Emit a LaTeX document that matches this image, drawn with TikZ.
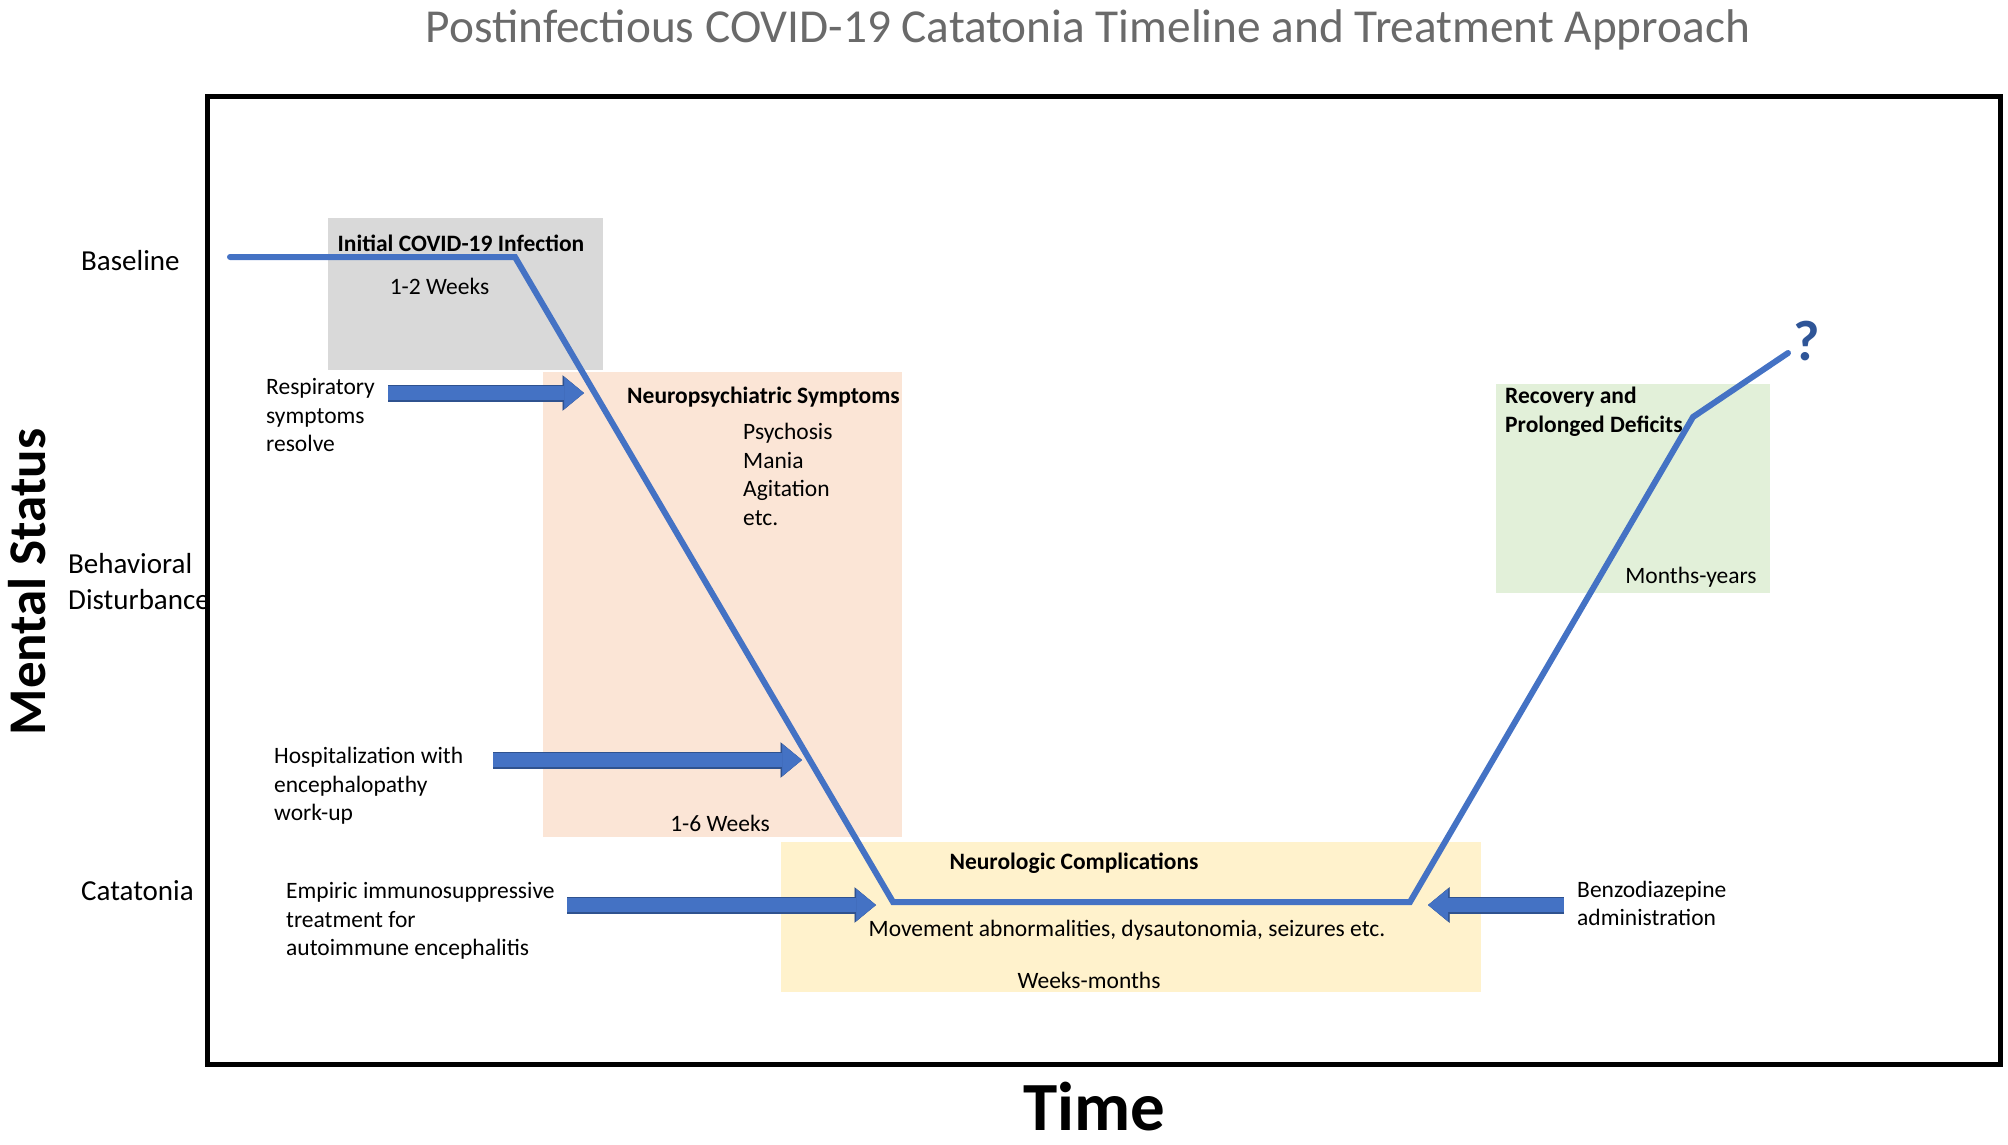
\documentclass[tikz,border=0pt]{standalone}
\usepackage{fontspec}
\setmainfont{Carlito}
\usetikzlibrary{arrows.meta}
\definecolor{lineblue}{HTML}{4472C4}
\definecolor{arrowblue}{HTML}{4472C4}
\definecolor{arrowdark}{HTML}{2F528F}
\definecolor{qblue}{HTML}{2F5597}
\definecolor{titlegray}{HTML}{6A6A6A}
\definecolor{boxgray}{HTML}{D9D9D9}
\definecolor{boxpeach}{HTML}{FBE5D6}
\definecolor{boxyellow}{HTML}{FFF2CC}
\definecolor{boxgreen}{HTML}{E2F0D9}
\tikzset{
  body/.style={font=\fontsize{23.5bp}{28.5bp}\selectfont, inner sep=0pt, align=left},
  bodyb/.style={font=\fontsize{23.5bp}{28.5bp}\selectfont\bfseries, inner sep=0pt, align=left},
  axislab/.style={font=\fontsize{29bp}{36bp}\selectfont, inner sep=0pt, align=left, anchor=west},
  bigaxis/.style={font=\fontsize{#1}{#1}\selectfont\bfseries, inner sep=0pt},
  barrow/.style={draw=arrowblue, line width=14.5bp,
    -{Triangle[width=32bp,length=20bp,line width=0.5bp]},
    preaction={draw=arrowdark, line width=17bp,
      -{Triangle[width=35.5bp,length=21.5bp,line width=0.5bp]}}},
  curve/.style={draw=lineblue, line width=6bp, line cap=round},
  frame/.style={draw=black, line width=5bp},
}
\begin{document}
\begin{tikzpicture}[x=1bp,y=-1bp]
\useasboundingbox (0,0) rectangle (2008,1144);
% phase boxes
\fill[boxgray]   (328,218) rectangle (603,370);
\fill[boxpeach]  (543,372) rectangle (902,837);
\fill[boxyellow] (781,842) rectangle (1481,992);
\fill[boxgreen]  (1496,384) rectangle (1770,593);
% title and axis titles
\node[font=\fontsize{47.3bp}{52bp}\selectfont, text=titlegray, inner sep=0pt] (title) at (1088,30)
  {Postinfectious COVID-19 Catatonia Timeline and Treatment Approach};
\node[bigaxis=53bp, rotate=90] (ylab) at (27,582) {Mental Status};
\node[bigaxis=69bp] (xlab) at (1094,1107) {Time};
% y levels
\node[axislab] (base) at (81,261) {Baseline};
\node[axislab] (behav) at (68,582) {Behavioral\\Disturbance};
\node[axislab] (cata) at (81,891) {Catatonia};
% box texts
\node[bodyb] (initT) at (461,243) {Initial COVID-19 Infection};
\node[body] (initW) at (439.5,286) {1-2 Weeks};
\node[bodyb, anchor=west] (neuroT) at (627,397) {Neuropsychiatric Symptoms};
\node[body, anchor=west] (neuroL) at (743,474.5) {Psychosis\\Mania\\Agitation\\etc.};
\node[body] (neuroW) at (720,823) {1-6 Weeks};
\node[bodyb] (nlT) at (1074,863) {Neurologic Complications};
\node[body] (nlL) at (1127,930) {Movement abnormalities, dysautonomia, seizures etc.};
\node[body] (nlW) at (1089,980) {Weeks-months};
\node[bodyb, anchor=west] (recT) at (1505,411.5) {Recovery and\\Prolonged Deficits};
\node[body] (recW) at (1691,577) {Months-years};
% event labels
\node[body, anchor=west] (resp) at (266,415) {Respiratory\\symptoms\\resolve};
\node[body, anchor=west] (hosp) at (274,786) {Hospitalization with\\encephalopathy\\work-up};
\node[body, anchor=west] (emp) at (286,921) {Empiric immunosuppressive\\treatment for\\autoimmune encephalitis};
\node[body, anchor=west] (benzo) at (1577,903.5) {Benzodiazepine\\administration};
% mental status curve
\coordinate (p0) at (230,257);
\coordinate (p1) at (515,257);
\coordinate (p2) at (893,902);
\coordinate (p3) at (1410,902);
\coordinate (p4) at (1693,417);
\coordinate (p5) at (1788,353);
\draw[curve] (p0) -- (p1) -- (p2) -- (p3) -- (p4) -- (p5);
\node[bigaxis=57bp, text=qblue] (qmark) at (1807,341) {?};
% block arrows
\coordinate (a1s) at (388,393);  \coordinate (a1e) at (584,393);
\coordinate (a2s) at (493,760);  \coordinate (a2e) at (802,760);
\coordinate (a3s) at (567,905);  \coordinate (a3e) at (876,905);
\coordinate (a4s) at (1564,905); \coordinate (a4e) at (1428,905);
\draw[barrow] (a1s) -- (a1e);
\draw[barrow] (a2s) -- (a2e);
\draw[barrow] (a3s) -- (a3e);
\draw[barrow] (a4s) -- (a4e);
% frame
\draw[frame] (207,96) rectangle (2000,1064);
\end{tikzpicture}
\end{document}
